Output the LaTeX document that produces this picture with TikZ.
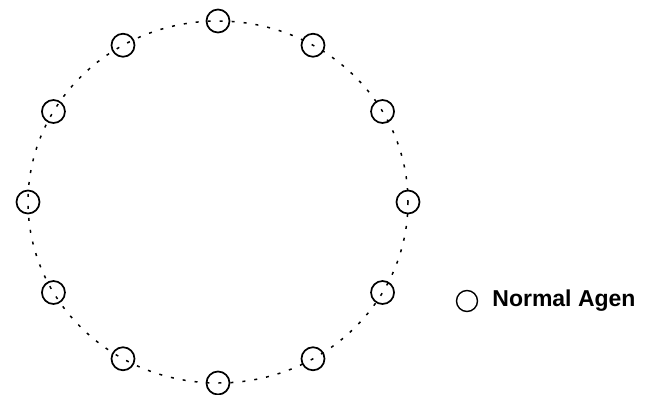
\documentclass[tikz,border=0pt]{standalone}
\usepackage{fontspec}
\setmainfont{Liberation Sans}
\usetikzlibrary{positioning}
\tikzset{
  agent/.style={circle,draw,line width=1.7pt,minimum size=23pt,inner sep=0pt},
  ring/.style={line width=1.5pt,dash pattern=on 3pt off 9pt}
}
\begin{document}
\begin{tikzpicture}[x=1pt,y=-1pt]
\useasboundingbox (0,0) rectangle (656,394);

% ring of agents
\draw[ring] (218,202) ellipse (190 and 181);
\foreach \a in {0,30,...,330}
  \node[agent] (a\a) at ({218+190*cos(\a)},{202-181*sin(\a)}) {};

% legend
\node[agent,line width=1.4pt,minimum size=21pt] (key) at (467,301) {};
\node[right=14pt of key,font=\fontsize{23}{25}\selectfont\bfseries,inner sep=0pt] (keytext) {Normal Agen};
\end{tikzpicture}
\end{document}
